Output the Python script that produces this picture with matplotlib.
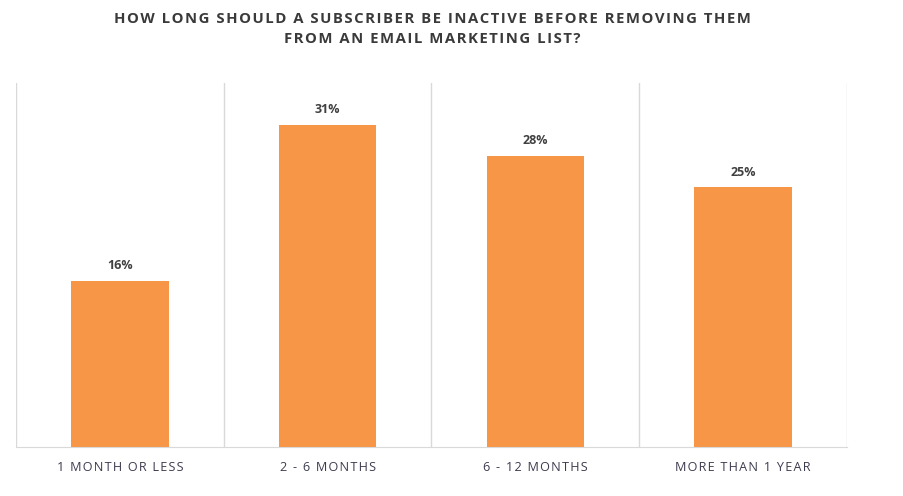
import matplotlib.pyplot as plt
import numpy as np

categories = ['1 MONTH OR LESS', '2 - 6 MONTHS', '6 - 12 MONTHS', 'MORE THAN 1 YEAR']
shares = [16, 31, 28, 25]
title_lines = ['HOW LONG SHOULD A SUBSCRIBER BE INACTIVE BEFORE REMOVING THEM',
               'FROM AN EMAIL MARKETING LIST?']

plt.rcParams['font.family'] = ['Open Sans', 'DejaVu Sans']


def spaced(s, gap='\u200a'):
    # fake letter spacing with hair spaces
    return gap.join(s)


fig = plt.figure(figsize=(9.04, 4.96), dpi=100)
ax = fig.add_axes([16 / 904, 49 / 496, 831 / 904, 364 / 496])

x = np.arange(len(categories))
ax.bar(x, shares, width=0.47, color='#F79646', zorder=2)

# value labels above each bar
for xi, v in zip(x, shares):
    ax.text(xi, v + 0.8, f'{v}%', ha='center', va='bottom',
            fontsize=9, fontweight='bold', color='#404040')

ax.set_xlim(-0.5, len(categories) - 0.5)
ax.set_ylim(0, 35)

# separators between categories
for b in np.arange(-0.5, len(categories), 1.0):
    ax.axvline(b, color='#d9d9d9', linewidth=1, zorder=1)

for s in ax.spines.values():
    s.set_visible(False)
ax.spines['bottom'].set_visible(True)
ax.spines['bottom'].set_color('#d9d9d9')

ax.set_yticks([])
ax.set_xticks(x)
ax.set_xticklabels([spaced(c) for c in categories], fontsize=9.1, color='#3c3c50')
ax.tick_params(axis='x', length=0, pad=10)

fig.text(0.478, 0.975, spaced(title_lines[0]) + '\n' + spaced(title_lines[1]),
         ha='center', va='top', fontsize=10.7,
         fontweight='bold', color='#3a3a3a', linespacing=1.5)

fig.savefig('out.png', dpi=100)
